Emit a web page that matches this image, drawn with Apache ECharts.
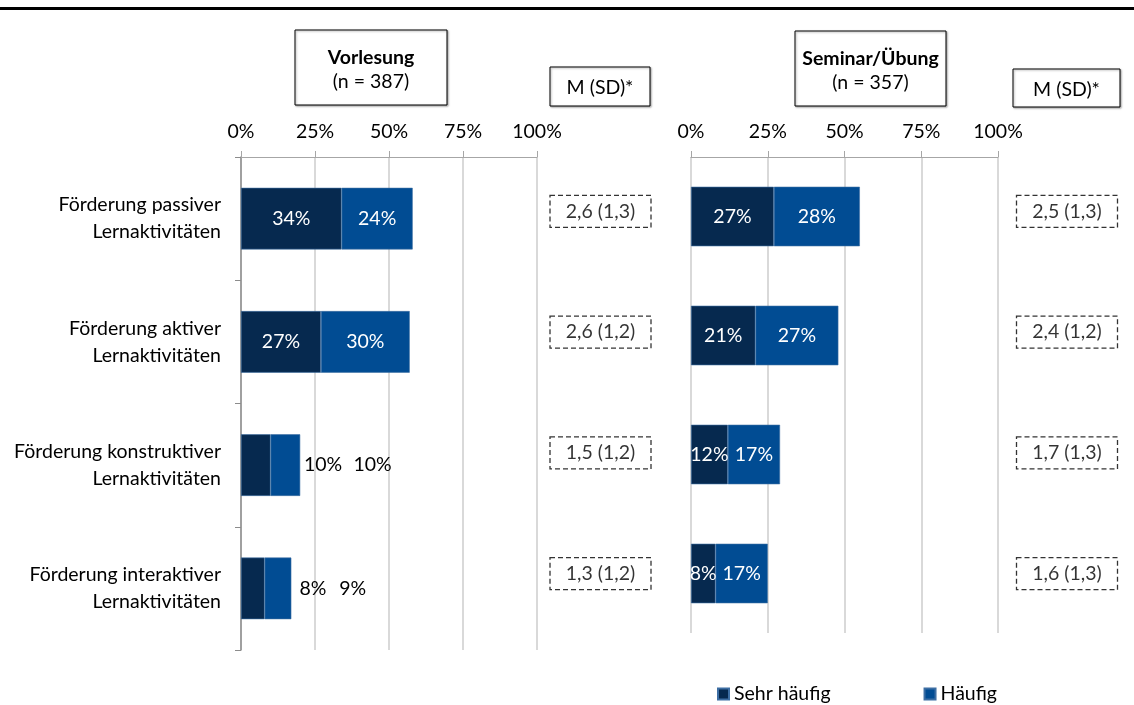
<!DOCTYPE html>
<html lang="de">
<head>
    <meta charset="UTF-8">
    <title>Lernaktivitäten</title>
    <script src="https://cdn.jsdelivr.net/npm/echarts@6/dist/echarts.min.js"></script>
    <style>
        body { margin: 0; background: #fff; }
        #chart { width: 1134px; height: 705px; }
    </style>
</head>
<body>
<div id="chart"></div>
<script>
    // Kategorien und Werte (in %)
    var categories = [
        'Förderung passiver\nLernaktivitäten',
        'Förderung aktiver\nLernaktivitäten',
        'Förderung konstruktiver\nLernaktivitäten',
        'Förderung interaktiver\nLernaktivitäten'
    ];
    var vorlesungSehr = [34, 27, 10, 8];
    var vorlesungHaeufig = [24, 30, 10, 9];
    var seminarSehr = [27, 21, 12, 8];
    var seminarHaeufig = [28, 27, 17, 17];

    // Mittelwert und Standardabweichung
    var vorlesungM = [2.6, 2.6, 1.5, 1.3];
    var vorlesungSD = [1.3, 1.2, 1.2, 1.2];
    var seminarM = [2.5, 2.4, 1.7, 1.6];
    var seminarSD = [1.3, 1.2, 1.3, 1.3];

    var xTicks = [0, 25, 50, 75, 100];

    var FONT = 'Lato';
    var FS = 19.5;
    var DARK = '#06294f';
    var BLUE = '#014c93';

    function de(v) {
        return v.toFixed(1).replace('.', ',');
    }

    var chart = echarts.init(document.getElementById('chart'));

    function xAxisFor(gridIndex) {
        return {
            type: 'value', gridIndex: gridIndex, position: 'top',
            min: xTicks[0], max: xTicks[xTicks.length - 1], interval: 25,
            axisLine: {show: true, lineStyle: {color: '#a6a6a6', width: 1}},
            axisTick: {show: true, length: 6, lineStyle: {color: '#a6a6a6'}},
            axisLabel: {formatter: '{value}%', fontFamily: FONT, fontSize: FS, color: '#000', margin: 15},
            splitLine: {show: true, lineStyle: {color: '#d9d9d9', width: 2}}
        };
    }

    // Label-Positionen für die schmalen Balken der Vorlesung (außerhalb)
    var outsideLabel = {
        sehr: {2: 82, 3: 72},
        haeufig: {2: 102, 3: 88}
    };

    function barData(values, outside) {
        return values.map(function (v, i) {
            if (outside && outside[i] !== undefined) {
                return {
                    value: v,
                    label: {position: [outside[i], '50%'], align: 'center', verticalAlign: 'middle', color: '#000'}
                };
            }
            return v;
        });
    }

    function barSeries(name, values, color, gridIdx, outside) {
        return {
            name: name, type: 'bar', stack: 'g' + gridIdx,
            xAxisIndex: gridIdx, yAxisIndex: gridIdx,
            barWidth: '50%',
            itemStyle: {color: color, borderColor: '#3d6ea3', borderWidth: 0.6},
            label: {
                show: true, position: 'inside', formatter: '{c}%',
                fontFamily: FONT, fontSize: FS, color: '#fff'
            },
            data: barData(values, outside)
        };
    }

    function msdSeries(gridIdx, means, sds) {
        return {
            type: 'scatter', xAxisIndex: gridIdx, yAxisIndex: gridIdx,
            symbolSize: 1, itemStyle: {color: 'rgba(0,0,0,0)'},
            silent: true,
            label: {
                show: true, position: 'inside',
                formatter: function (p) {
                    return de(means[p.dataIndex]) + ' (' + de(sds[p.dataIndex]) + ')';
                },
                fontFamily: FONT, fontSize: FS, color: '#000',
                width: 101, height: 32, lineHeight: 32, align: 'center',
                borderColor: '#000', borderWidth: 1.3, borderType: [5, 3]
            },
            data: means.map(function (m, i) { return [0, i]; })
        };
    }

    function headerBox(x, y, w, h, lines) {
        var children = [{
            type: 'rect',
            shape: {x: x, y: y, width: w, height: h},
            style: {fill: '#fff', stroke: '#000', lineWidth: 1,
                shadowBlur: 2, shadowOffsetX: 1, shadowOffsetY: 1, shadowColor: 'rgba(0,0,0,0.35)'}
        }];
        lines.forEach(function (l) {
            children.push({
                type: 'text',
                style: {
                    x: x + w / 2, y: l.y, text: l.text, align: 'center', verticalAlign: 'middle',
                    font: (l.bold ? 'bold ' : '') + FS + 'px ' + FONT, fill: '#000'
                }
            });
        });
        return {type: 'group', children: children};
    }

    var option = {
        animation: false,
        grid: [
            {left: 241, top: 157, width: 296, height: 493},
            {left: 691, top: 157, width: 307, height: 476},
            {left: 549, top: 151, width: 103, height: 483},
            {left: 1013, top: 151, width: 108, height: 483}
        ],
        legend: {
            data: ['Sehr häufig', 'Häufig'],
            left: 717, top: 684, padding: 0,
            icon: 'rect', itemWidth: 11, itemHeight: 11, itemGap: 93,
            textStyle: {fontFamily: FONT, fontSize: FS, color: '#000'}
        },
        xAxis: [
            xAxisFor(0),
            xAxisFor(1),
            {type: 'category', gridIndex: 2, data: ['M (SD)'], show: false},
            {type: 'category', gridIndex: 3, data: ['M (SD)'], show: false}
        ],
        yAxis: [
            {
                type: 'category', gridIndex: 0, data: categories, inverse: true,
                axisLine: {show: true, lineStyle: {color: '#8c8c8c', width: 1.5}},
                axisTick: {show: true, length: 6, lineStyle: {color: '#8c8c8c'}},
                axisLabel: {fontFamily: FONT, fontSize: FS, color: '#000', margin: 20, lineHeight: 27}
            },
            {type: 'category', gridIndex: 1, data: categories, inverse: true, show: false},
            {type: 'category', gridIndex: 2, data: categories, inverse: true, show: false},
            {type: 'category', gridIndex: 3, data: categories, inverse: true, show: false}
        ],
        series: [
            barSeries('Sehr häufig', vorlesungSehr, DARK, 0, outsideLabel.sehr),
            barSeries('Häufig', vorlesungHaeufig, BLUE, 0, outsideLabel.haeufig),
            barSeries('Sehr häufig', seminarSehr, DARK, 1),
            barSeries('Häufig', seminarHaeufig, BLUE, 1),
            msdSeries(2, vorlesungM, vorlesungSD),
            msdSeries(3, seminarM, seminarSD)
        ],
        graphic: [
            {type: 'rect', shape: {x: 0, y: 7, width: 1134, height: 3}, style: {fill: '#000'}},
            headerBox(295, 30, 152, 75, [
                {text: 'Vorlesung', y: 58, bold: true},
                {text: '(n = 387)', y: 82}
            ]),
            headerBox(550, 67, 100, 39, [{text: 'M (SD)*', y: 88}]),
            headerBox(795, 31, 151, 75, [
                {text: 'Seminar/Übung', y: 59, bold: true},
                {text: '(n = 357)', y: 83}
            ]),
            headerBox(1013, 69, 107, 38, [{text: 'M (SD)*', y: 90}])
        ]
    };

    chart.setOption(option);
</script>
</body>
</html>
